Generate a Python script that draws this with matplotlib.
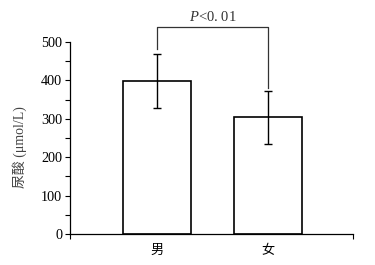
import matplotlib
matplotlib.use("Agg")
import matplotlib.pyplot as plt

categories = ["男", "女"]
means = [398, 304]
errors = [70, 69]
yticks = [0, 100, 200, 300, 400, 500]
ylabel = "尿酸 (μmol/L)"
sig_text = "$P$<0. 01"
bracket_y = [482, 539, 380]  # left end, top, right end

plt.rcParams['font.family'] = ['Liberation Serif', 'Noto Sans CJK SC']
plt.rcParams['mathtext.fontset'] = 'custom'
plt.rcParams['mathtext.it'] = 'Liberation Serif:italic'
plt.rcParams['mathtext.rm'] = 'Liberation Serif'

fig = plt.figure(figsize=(3.75, 2.65), dpi=100)
ax = fig.add_axes([0.1867, 0.117, 0.7547, 0.7245])

x = list(range(len(categories)))
ax.bar(x, means, width=0.613, color='white', edgecolor='black', linewidth=1.2, zorder=2)
ax.errorbar(x, means, yerr=errors, fmt='none', ecolor='black', elinewidth=1.0,
            capsize=2.7, capthick=1.0, zorder=3)

ax.set_xlim(-0.784, 1.766)
ax.set_ylim(0, 500)
ax.set_yticks(yticks)
ax.set_yticks(range(50, 500, 100), minor=True)
ax.tick_params(axis='y', which='both', direction='out', length=3.5, width=0.8, labelsize=10.2, pad=2)
ax.set_xticks(x)
ax.set_xticklabels(categories, family=['Noto Sans CJK SC'], fontsize=9.5)
ax.tick_params(axis='x', which='major', length=0, pad=7)
ax.set_xticks([-0.784, 1.766], minor=True)
ax.tick_params(axis='x', which='minor', direction='out', length=3.5, width=0.8)

for s in ['top', 'right']:
    ax.spines[s].set_visible(False)
ax.spines['left'].set_linewidth(0.9)
ax.spines['bottom'].set_linewidth(0.9)

ax.set_ylabel(ylabel, family=['Liberation Serif', 'Noto Sans CJK SC'], fontsize=10, color='#444444')
ax.yaxis.set_label_coords(-0.152, 0.453)

ax.plot([x[0], x[0], x[1], x[1]], [bracket_y[0], bracket_y[1], bracket_y[1], bracket_y[2]],
        color='#333333', linewidth=0.9, clip_on=False, zorder=1)
ax.text((x[0] + x[1]) / 2, bracket_y[1] + 8, sig_text, ha='center', va='bottom', fontsize=10.5,
        color='#333333', clip_on=False)

fig.savefig("out.png", dpi=100)
